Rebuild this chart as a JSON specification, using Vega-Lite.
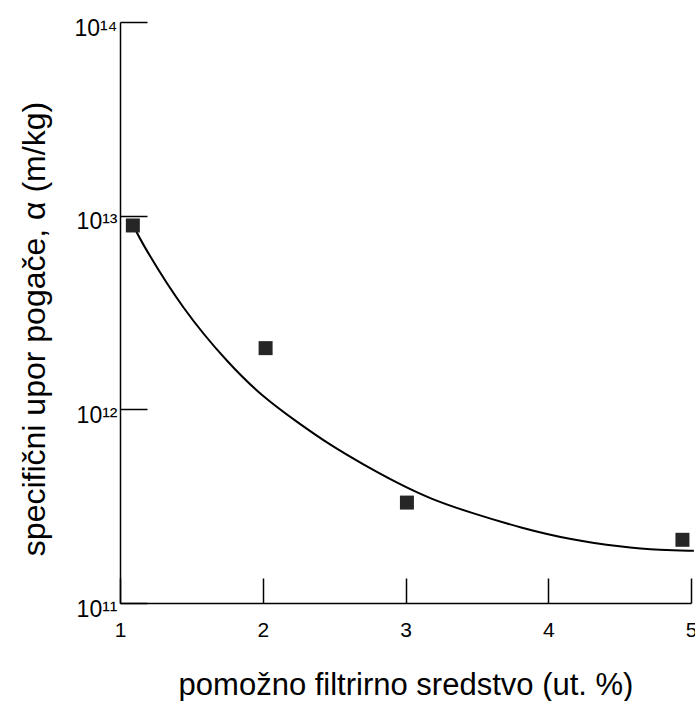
{
  "$schema": "https://vega.github.io/schema/vega-lite/v6.json",
  "autosize": "none",
  "width": 571,
  "height": 581,
  "padding": {"left": 120, "top": 22, "right": 4, "bottom": 98},
  "background": "white",
  "config": {
    "view": {"stroke": null},
    "font": "Liberation Sans",
    "axis": {"grid": false, "domainColor": "black", "tickColor": "black", "labelColor": "black", "titleColor": "black", "domainWidth": 1.5, "tickWidth": 1.5, "labelFont": "Liberation Sans", "titleFont": "Liberation Sans", "titleFontWeight": "normal"}
  },
  "datasets": {
    "pts": [
      {"x": 1.09, "y": 8.9e12},
      {"x": 2.02, "y": 2.07e12},
      {"x": 3.01, "y": 3.3e11},
      {"x": 4.94, "y": 2.12e11}
    ],
    "curve": [
      {"x": 1.105, "y": 8.6e12},
      {"x": 1.14, "y": 7.5e12},
      {"x": 1.44, "y": 3.26e12},
      {"x": 1.77, "y": 1.69e12},
      {"x": 2.0, "y": 1.16e12},
      {"x": 2.24, "y": 8.6e11},
      {"x": 2.47, "y": 6.55e11},
      {"x": 2.71, "y": 5.16e11},
      {"x": 2.94, "y": 4.17e11},
      {"x": 3.18, "y": 3.43e11},
      {"x": 3.46, "y": 2.92e11},
      {"x": 3.81, "y": 2.44e11},
      {"x": 4.16, "y": 2.12e11},
      {"x": 4.51, "y": 1.95e11},
      {"x": 4.79, "y": 1.87e11},
      {"x": 5.02, "y": 1.86e11}
    ]
  },
  "layer": [
    {
      "data": {"name": "curve"},
      "mark": {"type": "line", "color": "black", "strokeWidth": 2, "interpolate": "basis", "clip": false},
      "encoding": {
        "x": {"field": "x", "type": "quantitative",
          "scale": {"domain": [1, 5], "nice": false, "zero": false},
          "axis": {"values": [1, 2, 3, 4, 5], "format": "d", "tickSize": -25, "labelFontSize": 21, "labelPadding": 41, "labelBaseline": "top", "labelFlush": false,
            "title": "pomožno filtrirno sredstvo (ut. %)", "titleFontSize": 31, "titleBaseline": "alphabetic", "titleY": 91, "titleX": 285.5, "titleAnchor": "middle"}},
        "y": {"field": "y", "type": "quantitative",
          "scale": {"type": "log", "domain": [1e11, 1e14], "nice": false},
          "axis": {"values": [1e11, 1e12, 1e13, 1e14], "tickSize": -27, "labelFontSize": 23, "labelPadding": 30, "labelOffset": 6, "labelBaseline": "middle", "labelFlush": false,
            "labelExpr": "'10' + (datum.value < 5e11 ? '¹¹' : datum.value < 5e12 ? '¹²' : datum.value < 5e13 ? '¹³' : '¹⁴')",
            "title": "specifični upor pogače, α  (m/kg)", "titleFontSize": 32, "titleBaseline": "alphabetic", "titleX": -76, "titleY": 306.5, "titleAngle": -90, "titleAnchor": "middle"}}
      }
    },
    {
      "data": {"name": "pts"},
      "mark": {"type": "point", "shape": "square", "filled": true, "size": 196, "color": "#262626", "opacity": 1},
      "encoding": {
        "x": {"field": "x", "type": "quantitative"},
        "y": {"field": "y", "type": "quantitative"}
      }
    }
  ]
}
